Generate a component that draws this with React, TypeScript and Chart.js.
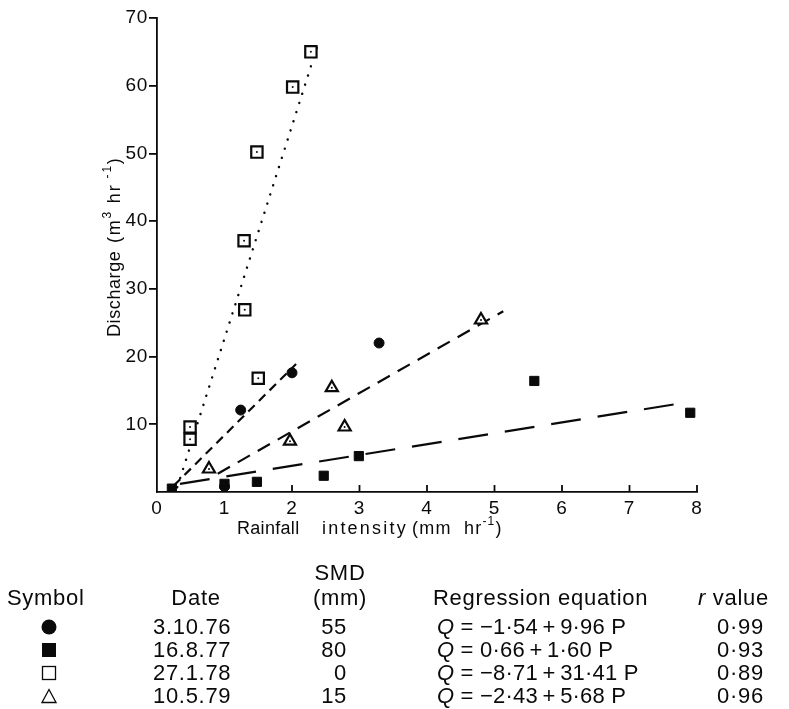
import React, { useEffect, useRef } from "react";
import { Chart, registerables } from "chart.js";

Chart.register(...registerables);

const circleX = [1.0, 1.24, 2.0, 3.29];
const circleY = [0.8, 12.1, 17.6, 22.0];
const filledSqX = [0.22, 1.0, 1.48, 2.47, 2.99, 5.59, 7.9];
const filledSqY = [0.5, 1.2, 1.5, 2.4, 5.3, 16.4, 11.7];
const openSqX = [0.49, 0.49, 1.29, 1.3, 1.48, 1.5, 2.01, 2.28];
const openSqY = [9.6, 7.8, 37.1, 26.9, 50.2, 16.8, 59.8, 65.0];
const triX = [0.77, 1.97, 2.59, 2.78, 4.8];
const triY = [3.4, 7.5, 15.4, 9.6, 25.4];

// ---- fitted line end points ----
const circleLineX = [0.25, 2.06];
const circleLineY = [0.95, 18.9];
const filledSqLineX = [0.34, 7.7];
const filledSqLineY = [1.2, 13.0];
const openSqLineX = [0.3, 2.38];
const openSqLineY = [0.7, 66.0];
const triLineX = [0.9, 5.13];
const triLineY = [2.7, 26.7];

// ---- axes ----
const xMin = 0;
const xMax = 8;
const yMin = 0;
const yMax = 70;

// ---- table ----
const tableSymbols = ["circle", "filledSquare", "openSquare", "triangle"];
const tableDates = ["3.10.76", "16.8.77", "27.1.78", "10.5.79"];
const tableSMD = ["55", "80", "0", "15"];
const tableEqIntercept = ["\u22121\u00b754", "0\u00b766", "\u22128\u00b771", "\u22122\u00b743"];
const tableEqSlope = ["9\u00b796", "1\u00b760", "31\u00b741", "5\u00b768"];
const tableR = ["0\u00b799", "0\u00b793", "0\u00b789", "0\u00b796"];

const FONT = '"Liberation Sans", Arial, Helvetica, sans-serif';
const INK = "#0a0a0a";

const pts = (xs: number[], ys: number[]) => xs.map((x, i) => ({ x, y: ys[i] }));

type Part = { t: string; sup?: boolean };

function drawRich(ctx: CanvasRenderingContext2D, parts: Part[], x: number, y: number, size: number, spacing: number) {
  let cx = x;
  ctx.textBaseline = "middle";
  ctx.textAlign = "left";
  for (const p of parts) {
    const s = p.sup ? Math.round(size * 0.68) : size;
    ctx.font = `${s}px ${FONT}`;
    (ctx as any).letterSpacing = `${spacing}px`;
    ctx.fillText(p.t, cx, p.sup ? y - size * 0.38 : y);
    cx += ctx.measureText(p.t).width;
  }
  (ctx as any).letterSpacing = "0px";
}

const xTitleWord1: Part[] = [{ t: "Rainfall" }];
const xTitleWord2: Part[] = [{ t: "intensity" }];
const xTitleWord3: Part[] = [{ t: "(mm  hr" }, { t: "-1", sup: true }, { t: ")" }];
const yTitleWord1: Part[] = [{ t: "Discharge" }];
const yTitleWord2: Part[] = [{ t: "(m" }, { t: "3", sup: true }, { t: " hr" }, { t: " -1", sup: true }, { t: ")" }];

const decor = {
  id: "decor",
  afterDraw(chart: any) {
    const { ctx, scales, chartArea } = chart;
    const xs = scales.x;
    ctx.save();
    ctx.strokeStyle = INK;
    ctx.lineWidth = 1.8;
    xs.ticks.forEach((t: any) => {
      if (t.value === 0) return;
      const px = xs.getPixelForValue(t.value);
      ctx.beginPath();
      ctx.moveTo(px, chartArea.bottom);
      ctx.lineTo(px, chartArea.bottom - 7);
      ctx.stroke();
    });
    ctx.fillStyle = INK;
    drawRich(ctx, xTitleWord1, 237, 529, 18, 0.3);
    drawRich(ctx, xTitleWord2, 322, 529, 18, 2.2);
    drawRich(ctx, xTitleWord3, 412, 529, 18, 1.2);
    ctx.translate(115, 337);
    ctx.rotate(-Math.PI / 2);
    drawRich(ctx, yTitleWord1, 0, 0, 18, 0.6);
    drawRich(ctx, yTitleWord2, 94, 0, 18, 1.8);
    ctx.restore();
  },
};

function Txt(props: { x: number; y: number; align?: "left" | "center" | "right"; children: any; style?: any }) {
  const { x, y, align = "left", children, style } = props;
  const tx = align === "left" ? "0" : align === "center" ? "-50%" : "-100%";
  return (
    <div
      style={{
        position: "absolute",
        left: x,
        top: y - 13,
        height: 26,
        lineHeight: "26px",
        transform: `translateX(${tx})`,
        whiteSpace: "nowrap",
        ...style,
      }}
    >
      {children}
    </div>
  );
}

function Sym({ kind, x, y }: { kind: string; x: number; y: number }) {
  let shape: any = null;
  if (kind === "circle") shape = <circle cx={8} cy={8} r={7.5} fill={INK} />;
  else if (kind === "filledSquare") shape = <rect x={1} y={1} width={14} height={14} fill={INK} />;
  else if (kind === "openSquare") shape = <rect x={1.5} y={1.5} width={13} height={13} fill="none" stroke={INK} strokeWidth={1.3} />;
  else shape = <polygon points="8,1.5 15,14.5 1,14.5" fill="none" stroke={INK} strokeWidth={1.3} />;
  return (
    <svg width={16} height={16} style={{ position: "absolute", left: x - 8, top: y - 8 }}>
      {shape}
    </svg>
  );
}

export default function App() {
  const ref = useRef<HTMLCanvasElement>(null);

  useEffect(() => {
    document.body.style.margin = "0";
    const canvas = ref.current!;
    const lineDs = (xs: number[], ys: number[], dash: number[], cap: CanvasLineCap = "butt", w = 2.2) => ({
      data: pts(xs, ys),
      showLine: true,
      pointRadius: 0,
      borderColor: INK,
      borderWidth: w,
      borderDash: dash,
      borderCapStyle: cap,
      fill: false,
      order: 5,
    });
    const chart = new Chart(canvas, {
      type: "scatter",
      data: {
        datasets: [
          lineDs(openSqLineX, openSqLineY, [0.1, 9.5], "round", 2.4) as any,
          lineDs(circleLineX, circleLineY, [9, 6]) as any,
          lineDs(triLineX, triLineY, [14, 9]) as any,
          lineDs(filledSqLineX, filledSqLineY, [30, 17]) as any,
          {
            data: pts(circleX, circleY),
            pointStyle: "circle",
            pointRadius: 5,
            backgroundColor: INK,
            borderColor: INK,
            borderWidth: 1,
            order: 1,
          },
          {
            data: pts(filledSqX, filledSqY),
            pointStyle: "rect",
            pointRadius: 6.5,
            backgroundColor: INK,
            borderColor: INK,
            borderWidth: 1,
            order: 1,
          },
          {
            data: pts(openSqX, openSqY),
            pointStyle: "rect",
            pointRadius: 8,
            backgroundColor: "#fff",
            borderColor: INK,
            borderWidth: 2.2,
            order: 2,
          },
          {
            data: pts(triX, triY),
            pointStyle: "triangle",
            pointRadius: 7,
            backgroundColor: "#fff",
            borderColor: INK,
            borderWidth: 2.2,
            order: 2,
          },
          {
            data: pts(openSqX, openSqY),
            pointStyle: "circle",
            pointRadius: 1,
            backgroundColor: INK,
            borderWidth: 0,
            order: 0,
          },
          {
            data: pts(triX, triY),
            pointStyle: "circle",
            pointRadius: 1,
            backgroundColor: INK,
            borderWidth: 0,
            order: 0,
          },
        ],
      },
      options: {
        animation: false,
        responsive: false,
        events: [],
        layout: { padding: { left: 0, top: 18, right: 92, bottom: 0 } },
        plugins: { legend: { display: false }, tooltip: { enabled: false } },
        scales: {
          x: {
            type: "linear",
            min: xMin,
            max: xMax,
            position: "bottom",
            ticks: { stepSize: 1, color: INK, font: { size: 19, family: FONT }, padding: 5 },
            grid: { display: false, drawOnChartArea: false, drawTicks: false },
            border: { display: true, color: INK, width: 1.8 },
            afterFit: (s: any) => {
              s.height = 217;
            },
          },
          y: {
            type: "linear",
            min: yMin,
            max: yMax,
            ticks: {
              stepSize: 10,
              color: INK,
              font: { size: 19, family: FONT },
              padding: 1,
              callback: (v: any) => (v === 0 ? "" : String(v)),
            },
            grid: {
              drawOnChartArea: false,
              drawTicks: true,
              tickLength: 8,
              lineWidth: 1.8,
              color: (c: any) => (c.tick && c.tick.value === 0 ? "rgba(0,0,0,0)" : INK),
            },
            border: { display: true, color: INK, width: 1.8 },
            afterFit: (s: any) => {
              s.width = 157;
            },
          },
        },
      },
      plugins: [decor],
    });
    return () => chart.destroy();
  }, []);

  const rowY = [627, 650, 673, 696];
  const textStyle = { fontFamily: FONT, fontSize: 22, letterSpacing: "0.7px", color: INK };

  return (
    <div style={{ position: "absolute", left: 0, top: 0, width: 789, height: 709, background: "#fff", overflow: "hidden", ...textStyle }}>
      <canvas ref={ref} width={789} height={709} style={{ position: "absolute", left: 0, top: 0, width: 789, height: 709 }} />
      <Txt x={340} y={573} align="center">SMD</Txt>
      <Txt x={7} y={598}>Symbol</Txt>
      <Txt x={196} y={598} align="center">Date</Txt>
      <Txt x={340} y={598} align="center">(mm)</Txt>
      <Txt x={433} y={598}>Regression equation</Txt>
      <Txt x={698} y={598}>
        <i>r</i> value
      </Txt>
      {rowY.map((y, i) => (
        <React.Fragment key={i}>
          <Sym kind={tableSymbols[i]} x={49} y={y} />
          <Txt x={153} y={y}>{tableDates[i]}</Txt>
          <Txt x={347} y={y} align="right">{tableSMD[i]}</Txt>
          <Txt x={437} y={y} style={{ letterSpacing: "0.2px" }}>
            <i>Q</i> = {tableEqIntercept[i]}{"\u2009+\u2009"}{tableEqSlope[i]} P
          </Txt>
          <Txt x={717} y={y}>{tableR[i]}</Txt>
        </React.Fragment>
      ))}
    </div>
  );
}
